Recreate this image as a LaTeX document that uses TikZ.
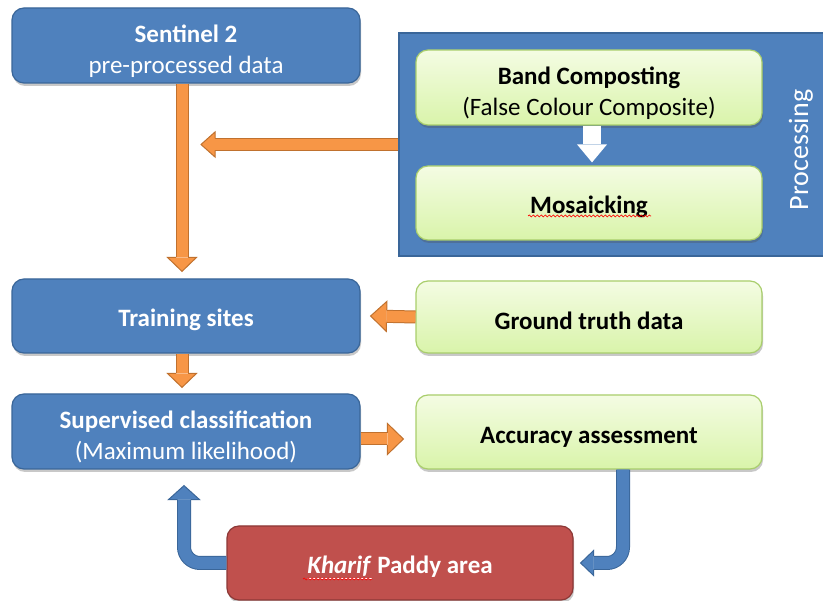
\documentclass[tikz,border=0pt]{standalone}
\usepackage{fontspec}
\setmainfont{Carlito}
\usetikzlibrary{calc,shadows,decorations.pathmorphing}
\definecolor{bxblue}{HTML}{4F81BD}
\definecolor{bxblueB}{HTML}{3A6699}
\definecolor{bxred}{HTML}{C0504D}
\definecolor{bxredB}{HTML}{8C3836}
\definecolor{grtop}{HTML}{F4FCE3}
\definecolor{grbot}{HTML}{D9F4AA}
\definecolor{grB}{HTML}{A9CE6C}
\definecolor{orF}{HTML}{F79646}
\definecolor{orB}{HTML}{C0712E}
\newcommand\stA{\rule{0pt}{26pt}}
\newcommand\stB{\rule{0pt}{29pt}}
\tikzset{
  box/.style={rounded corners=12pt, line width=1.2pt, align=center, inner sep=0pt,
    font=\fontsize{25}{31}\selectfont,
    drop shadow={shadow xshift=1pt, shadow yshift=-3pt, opacity=0.3, fill=black!70}},
  bluebox/.style={box, fill=bxblue, draw=bxblueB, text=white, minimum width=348pt},
  greenbox/.style={box, top color=grtop, bottom color=grbot, draw=grB, text=black, minimum width=346pt},
  redbox/.style={box, fill=bxred, draw=bxredB, text=white, minimum width=346pt},
  orshaft/.style={draw=orB, double=orF, double distance=11pt, line width=1pt},
  blshaft/.style={draw=bxblueB, double=bxblue, double distance=12pt, line width=1pt, rounded corners=16pt},
  spell/.style={draw=red, line width=0.7pt, decorate, decoration={snake, amplitude=1pt, segment length=4pt}}
}
% #1 base, #2 tip, #3 half shaft, #4 half head, #5 fill, #6 border
\newcommand\arrhead[6]{%
  \fill[#5] ($(#1)!#4!90:(#2)$) -- (#2) -- ($(#1)!#4!-90:(#2)$) -- cycle;
  \draw[#6, line width=1pt, line join=miter]
    ($(#1)!#3!90:(#2)$) -- ($(#1)!#4!90:(#2)$) -- (#2) -- ($(#1)!#4!-90:(#2)$) -- ($(#1)!#3!-90:(#2)$);
}
\begin{document}
\begin{tikzpicture}[x=1pt, y=-1pt]
\useasboundingbox[fill=white] (0,0) rectangle (823,601);

% Processing panel
\node[draw=bxblueB, fill=bxblue, line width=1.2pt, minimum width=431pt, minimum height=223pt, inner sep=0pt] (panel) at (614.5,144.5) {};
\node[rotate=90, text=white, font=\fontsize{28}{34}\selectfont] (proc) at (801,150) {Processing};

% boxes
\node[bluebox, minimum height=75pt] (sentinel) at (186,45.5) {\stB\textbf{Sentinel 2}\\pre-processed data};
\node[greenbox, minimum height=75pt] (band) at (589,87.5) {\stB\textbf{Band Composting}\\(False Colour Composite)};
\node[greenbox, minimum height=74pt] (mosaic) at (589,203) {\stA\textbf{Mosaicking}};
\node[bluebox, minimum height=74pt] (training) at (186,316) {\stA\textbf{Training sites}};
\node[greenbox, minimum height=72pt] (ground) at (589,317) {\stA\textbf{Ground truth data}};
\node[bluebox, minimum height=75pt] (supervised) at (186,431.5) {\stB\textbf{Supervised classification}\\(Maximum likelihood)};
\node[greenbox, minimum height=74pt] (accuracy) at (589,432) {\stA\textbf{Accuracy assessment}};
\node[redbox, minimum height=74pt] (kharif) at (400,563) {\stA\textbf{\underline{\textit{Kharif}} Paddy area}};

% spell-check marks
\draw[spell] ($(mosaic)+(-61,13)$) -- ($(mosaic)+(62,13)$);
\draw[spell] ($(kharif)+(-97,16)$) -- ($(kharif)+(-28,16)$);

% white arrow inside panel
\coordinate (w0) at ($(band.south)+(3,0)$);
\coordinate (w1) at ($(mosaic.north)+(3,-3)$);
\coordinate (wm) at ($(w1)!18pt!(w0)$);
\draw[white, line width=18pt] (w0) -- (wm);
\fill[white] ($(wm)!15pt!90:(w1)$) -- (w1) -- ($(wm)!15pt!-90:(w1)$) -- cycle;

% orange arrows
% sentinel -> training
\coordinate (a1s) at ($(sentinel.south)+(-4,0)$);
\coordinate (a1e) at ($(training.north)+(-4,-7)$);
\coordinate (a1m) at ($(a1e)!14pt!(a1s)$);
\draw[orshaft] (a1s) -- (a1m);
\arrhead{a1m}{a1e}{6pt}{14.5pt}{orF}{orB}

% panel -> vertical arrow
\coordinate (a2e) at ($(panel.west -| a1s)+(19,0)$);
\coordinate (a2m) at ($(a2e)!14pt!(panel.west)$);
\draw[orshaft] (panel.west) -- (a2m);
\arrhead{a2m}{a2e}{6pt}{12.5pt}{orF}{orB}

% ground -> training
\coordinate (a3s) at (ground.west);
\coordinate (a3e) at ($(training.east)+(10,0)$);
\coordinate (a3m) at ($(a3e)!16pt!(a3s)$);
\draw[orshaft] (a3s) -- (a3m);
\arrhead{a3m}{a3e}{6pt}{15pt}{orF}{orB}

% training -> supervised
\coordinate (a4s) at ($(training.south)+(-4,0)$);
\coordinate (a4e) at ($(supervised.north)+(-4,-6)$);
\coordinate (a4m) at ($(a4e)!14pt!(a4s)$);
\draw[orshaft] (a4s) -- (a4m);
\arrhead{a4m}{a4e}{6pt}{14.5pt}{orF}{orB}

% supervised -> accuracy
\coordinate (a5s) at ($(supervised.east)+(0,7.5)$);
\coordinate (a5e) at ($(accuracy.west |- a5s)+(-12,0)$);
\coordinate (a5m) at ($(a5e)!16pt!(a5s)$);
\draw[orshaft] (a5s) -- (a5m);
\arrhead{a5m}{a5e}{6pt}{15.5pt}{orF}{orB}

% blue bent arrows
% accuracy -> kharif
\coordinate (b1s) at ($(accuracy.south)+(34,0)$);
\coordinate (b1e) at ($(kharif.east)+(7,0)$);
\coordinate (b1m) at ($(b1e)+(13,0)$);
\draw[blshaft] (b1s) |- (b1m);
\arrhead{b1m}{b1e}{6.5pt}{12.5pt}{bxblue}{bxblueB}

% kharif -> supervised
\coordinate (b2e) at ($(supervised.south)+(-2,16)$);
\coordinate (b2m) at ($(b2e)+(0,14)$);
\draw[blshaft] (kharif.west) -| (b2m);
\arrhead{b2m}{b2e}{6.5pt}{15.5pt}{bxblue}{bxblueB}
\end{tikzpicture}
\end{document}
